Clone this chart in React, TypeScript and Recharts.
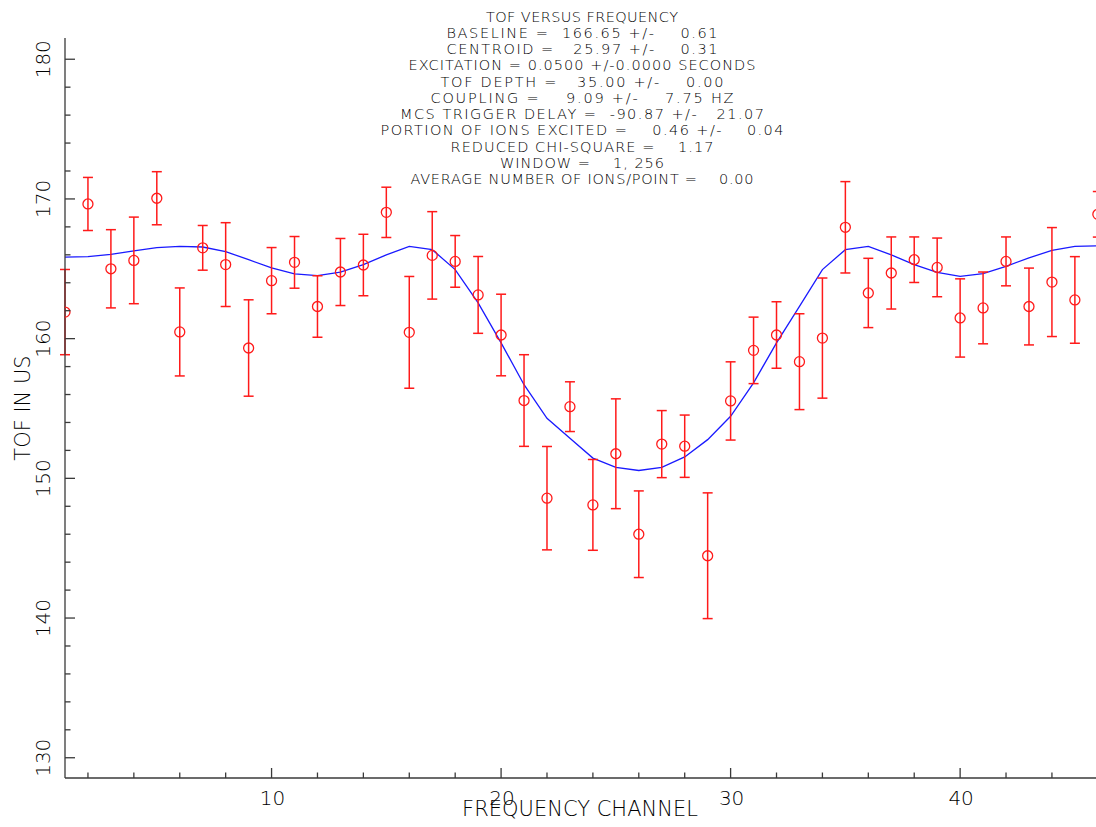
import React from 'react';
import { ComposedChart, Scatter, Line, XAxis, YAxis, ErrorBar } from 'recharts';

const channels = [
  1, 2, 3, 4, 5, 6, 7, 8, 9, 10, 11, 12, 13, 14, 15, 16, 17, 18, 19, 20, 21, 22, 23,
  24, 25, 26, 27, 28, 29, 30, 31, 32, 33, 34, 35, 36, 37, 38, 39, 40, 41, 42, 43, 44, 45, 46,
];

const tofValues = [
  161.9, 169.64, 165.0, 165.6, 170.05, 160.48, 166.5, 165.3, 159.33, 164.15, 165.46, 162.3,
  164.77, 165.27, 169.04, 160.45, 165.96, 165.53, 163.13, 160.26, 155.57, 148.58, 155.13,
  148.1, 151.76, 146.0, 152.45, 152.3, 144.46, 155.54, 159.16, 160.26, 158.35, 160.04,
  167.97, 163.27, 164.7, 165.65, 165.1, 161.48, 162.2, 165.53, 162.3, 164.05, 162.77, 168.9,
];

const tofErrors = [
  3.05, 1.9, 2.8, 3.1, 1.9, 3.15, 1.6, 3.0, 3.45, 2.37, 1.85, 2.2, 2.4, 2.2, 1.8, 4.0, 3.13,
  1.85, 2.75, 2.92, 3.28, 3.7, 1.78, 3.25, 3.93, 3.1, 2.4, 2.23, 4.5, 2.8, 2.38, 2.38, 3.43,
  4.3, 3.27, 2.48, 2.58, 1.63, 2.1, 2.8, 2.57, 1.75, 2.75, 3.9, 3.1, 1.63,
];

const fitValues = [
  165.83, 165.87, 166.03, 166.28, 166.51, 166.6, 166.56, 166.23, 165.65, 165.06, 164.63,
  164.51, 164.76, 165.3, 166.0, 166.6, 166.37, 164.94, 162.56, 159.7, 156.7, 154.3, 152.87,
  151.45, 150.78, 150.56, 150.78, 151.53, 152.77, 154.44, 156.83, 159.7, 162.31, 164.94,
  166.37, 166.6, 166.0, 165.3, 164.75, 164.46, 164.65, 165.18, 165.78, 166.32, 166.6, 166.65,
];

const xTicks = [2, 4, 6, 8, 10, 12, 14, 16, 18, 20, 22, 24, 26, 28, 30, 32, 34, 36, 38, 40, 42, 44];
const xLabeledTicks = [10, 20, 30, 40];
const yTicks = [
  130, 132, 134, 136, 138, 140, 142, 144, 146, 148, 150, 152, 154, 156, 158, 160, 162, 164,
  166, 168, 170, 172, 174, 176, 178, 180,
];
const yLabeledTicks = [130, 140, 150, 160, 170, 180];

const headerLines = [
  'TOF VERSUS FREQUENCY',
  'BASELINE =  166.65 +/-    0.61',
  'CENTROID =   25.97 +/-    0.31',
  'EXCITATION = 0.0500 +/-0.0000 SECONDS',
  'TOF DEPTH =   35.00 +/-    0.00',
  'COUPLING =    9.09 +/-    7.75 HZ',
  'MCS TRIGGER DELAY =  -90.87 +/-   21.07',
  'PORTION OF IONS EXCITED =    0.46 +/-    0.04',
  'REDUCED CHI-SQUARE =    1.17',
  'WINDOW =    1, 256',
  'AVERAGE NUMBER OF IONS/POINT =    0.00',
];
// rendered widths of the header lines (layout only)
const headerWidths = [192, 271, 271, 347, 283, 303, 364, 403, 263, 164, 343];

const xTitle = 'FREQUENCY CHANNEL';
const yTitle = 'TOF IN US';

const FONT = '"DejaVu Sans", sans-serif';
const AXIS_COLOR = '#3a3a3a';
const RED = '#ff1a1a';
const BLUE = '#1a1aff';

const data = channels.map((ch, i) => ({
  ch,
  tof: tofValues[i],
  err: tofErrors[i],
  fit: fitValues[i],
}));

const XTick = (props: any) => {
  const { x, y, payload } = props;
  const major = xLabeledTicks.includes(payload.value);
  return (
    <g>
      <line x1={x} y1={y} x2={x} y2={y - (major ? 10 : 5.5)} stroke={AXIS_COLOR} strokeWidth={1.3} />
      {major && (
        <text x={x + 1} y={y + 27} textAnchor="middle" fontFamily={FONT} fontWeight={200} fontSize={20} fill="#000">
          {payload.value}
        </text>
      )}
    </g>
  );
};

const YTick = (props: any) => {
  const { x, y, payload } = props;
  const major = yLabeledTicks.includes(payload.value);
  const lx = 50;
  return (
    <g>
      <line x1={x} y1={y} x2={x + (major ? 10 : 5.5)} y2={y} stroke={AXIS_COLOR} strokeWidth={1.3} />
      {major && (
        <text
          x={lx}
          y={y}
          textAnchor="middle"
          transform={`rotate(-90, ${lx}, ${y})`}
          fontFamily={FONT}
          fontWeight={200}
          fontSize={20}
          fill="#000"
        >
          {payload.value}
        </text>
      )}
    </g>
  );
};

const CircleShape = (props: any) => {
  const { cx, cy } = props;
  if (cx == null || cy == null) return null;
  return <circle cx={cx} cy={cy} r={5} fill="none" stroke={RED} strokeWidth={1.3} />;
};

export default function App() {
  return (
    <div style={{ position: 'absolute', left: 0, top: 0, width: 1096, height: 827, background: '#fff' }}>
      <ComposedChart
        width={1096}
        height={827}
        data={data}
        margin={{ top: 38, right: 0, bottom: 0, left: 0 }}
      >
        <XAxis
          dataKey="ch"
          type="number"
          domain={[1, 45.92]}
          allowDataOverflow
          ticks={xTicks}
          interval={0}
          height={49}
          tickSize={0}
          tickMargin={0}
          tickLine={false}
          axisLine={{ stroke: AXIS_COLOR, strokeWidth: 1.3 }}
          tick={<XTick />}
        />
        <YAxis
          type="number"
          domain={[128.55, 181.52]}
          allowDataOverflow
          ticks={yTicks}
          interval={0}
          width={65}
          tickSize={0}
          tickMargin={0}
          tickLine={false}
          axisLine={{ stroke: AXIS_COLOR, strokeWidth: 1.3 }}
          tick={<YTick />}
        />
        <Line
          dataKey="fit"
          type="linear"
          stroke={BLUE}
          strokeWidth={1.3}
          dot={false}
          activeDot={false}
          isAnimationActive={false}
        />
        <Scatter dataKey="tof" shape={<CircleShape />} isAnimationActive={false}>
          <ErrorBar dataKey="err" direction="y" width={5} stroke={RED} strokeWidth={1.5} isAnimationActive={false} />
        </Scatter>
      </ComposedChart>
      <svg
        width={1096}
        height={827}
        style={{ position: 'absolute', left: 0, top: 0, pointerEvents: 'none' }}
      >
        {headerLines.map((line, i) => (
          <text
            key={i}
            x={582}
            y={21.7 + i * 16.23}
            textAnchor="middle"
            fontFamily={FONT}
            fontSize={14.5}
            fontWeight={200}
            fill="#000"
            textLength={headerWidths[i]}
            lengthAdjust="spacing"
            style={{ whiteSpace: 'pre' }}
          >
            {line}
          </text>
        ))}
        <text x={580} y={816} textAnchor="middle" fontFamily={FONT} fontWeight={200} fontSize={21} fill="#000">
          {xTitle}
        </text>
        <text
          x={30}
          y={408}
          textAnchor="middle"
          transform="rotate(-90, 30, 408)"
          fontFamily={FONT}
          fontWeight={200}
          fontSize={21}
          fill="#000"
        >
          {yTitle}
        </text>
      </svg>
    </div>
  );
}
